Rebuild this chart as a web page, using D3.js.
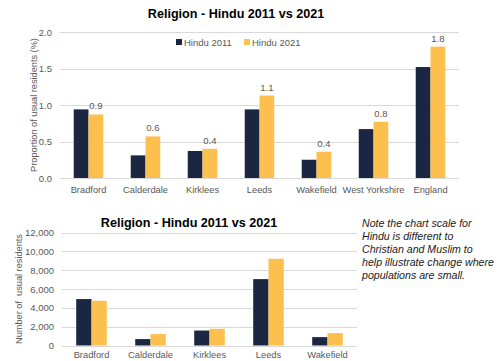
<!DOCTYPE html>
<html><head><meta charset="utf-8">
<script src="https://cdn.jsdelivr.net/npm/d3@7"></script>
<style>body{margin:0;background:#fff;font-family:"Liberation Sans",Arial,sans-serif;}svg text{font-family:"Liberation Sans",Arial,sans-serif;}</style>
</head><body><svg id="c" width="500" height="361"></svg>
<script>
const topCategories = ["Bradford","Calderdale","Kirklees","Leeds","Wakefield","West Yorkshire","England"];
const pct2011 = [0.94,0.31,0.37,0.94,0.25,0.67,1.52];
const pct2021 = [0.87,0.57,0.40,1.13,0.36,0.77,1.80];
const pctLabels2021 = ["0.9","0.6","0.4","1.1","0.4","0.8","1.8"];
const pctTicks = [0,0.5,1.0,1.5,2.0];

const botCategories = ["Bradford","Calderdale","Kirklees","Leeds","Wakefield"];
const num2011 = [4930,680,1590,7050,890];
const num2021 = [4750,1210,1770,9210,1320];
const numTicks = [0,2000,4000,6000,8000,10000,12000];

const seriesNames = ["Hindu 2011","Hindu 2021"];
const colors = ["#1b2742","#fdc04f"];
const title = "Religion - Hindu 2011 vs 2021";
const note = ["Note the chart scale for","Hindu is different to","Christian and Muslim to","help illustrate change where","populations are small."];

const svg = d3.select("#c");
const tickColor = "#595959", gridColor = "#d9d9d9";

function drawChart(g, cats, s1, s2, ticks, x0, x1, y0, y1, fmt, ytitle, ytitleX, labels, catBase) {
  const x = d3.scaleBand().domain(cats).range([x0, x1]).paddingInner(0).paddingOuter(0);
  const y = d3.scaleLinear().domain([ticks[0], ticks[ticks.length-1]]).range([y0, y1]);
  const xs = d3.scaleBand().domain([0,1]).range([0, x.bandwidth()]).paddingInner(0).paddingOuter(0.93);
  g.selectAll(".grid").data(ticks).enter().append("line")
    .attr("x1", x0).attr("x2", x1).attr("y1", d=>Math.round(y(d))+0.5).attr("y2", d=>Math.round(y(d))+0.5)
    .attr("stroke", gridColor).attr("stroke-width", 1);
  const ya = d3.axisLeft(y).tickValues(ticks).tickFormat(fmt).tickSize(0).tickPadding(8);
  const yg = g.append("g").attr("transform", `translate(${x0},0)`).call(ya);
  yg.select(".domain").remove();
  yg.selectAll("text").attr("fill", tickColor).style("font-size","9.5px");
  const xa = d3.axisBottom(x).tickSize(0).tickPadding(0);
  const xg = g.append("g").attr("transform", `translate(0,${y0})`).call(xa);
  xg.select(".domain").remove();
  xg.selectAll("text").attr("fill", tickColor).style("font-size","9.3px")
    .attr("dy", null).attr("y", catBase - y0);
  [s1, s2].forEach((s, si) => {
    g.selectAll(".b"+si).data(s).enter().append("rect")
      .attr("x", (d,i)=>x(cats[i]) + xs(si))
      .attr("width", xs.bandwidth())
      .attr("y", d=>y(d)).attr("height", d=>y0 - y(d))
      .attr("fill", colors[si]);
  });
  if (labels) {
    g.selectAll(".lab").data(s2).enter().append("text")
      .attr("x", (d,i)=>x(cats[i]) + xs(1) + xs.bandwidth()/2)
      .attr("y", d=>y(d) - 5)
      .attr("text-anchor","middle").attr("fill", tickColor).style("font-size","9.5px")
      .text((d,i)=>labels[i]);
  }
  g.append("text").attr("transform", `translate(${ytitleX},${(y0+y1)/2}) rotate(-90)`)
    .attr("text-anchor","middle").attr("fill", tickColor).style("font-size","9.2px")
    .style("white-space","pre")
    .text(ytitle);
}

const gt = svg.append("g");
drawChart(gt, topCategories, pct2011, pct2021, pctTicks, 60, 459, 178, 32, d3.format(".1f"),
  "Proportion of usual residents (%)", 36.5, pctLabels2021, 193);
svg.append("text").attr("x", 236).attr("y", 18).attr("text-anchor","middle")
  .style("font-size","12.6px").style("font-weight","bold").attr("fill","#000").text(title);
const leg = svg.append("g");
const legX = [176, 244];
seriesNames.forEach((n,i)=>{
  leg.append("rect").attr("x", legX[i]).attr("y", 39).attr("width", 6).attr("height", 6).attr("fill", colors[i]);
  leg.append("text").attr("x", legX[i]+8).attr("y", 45.5).attr("fill", tickColor).style("font-size","9.5px").text(n);
});

const gb = svg.append("g");
drawChart(gb, botCategories, num2011, num2021, numTicks, 62, 357, 345.5, 232.5, d3.format(","),
  "Number of  usual residents", 21.5, null, 358);
svg.append("text").attr("x", 189).attr("y", 227).attr("text-anchor","middle")
  .style("font-size","12.6px").style("font-weight","bold").attr("fill","#000").text(title);
svg.append("g").selectAll("text").data(note).enter().append("text")
  .attr("x", 362).attr("y", (d,i)=>227 + i*12.9)
  .style("font-size","10.6px").style("font-style","italic").attr("fill","#1a1a1a").text(d=>d);
</script></body></html>
